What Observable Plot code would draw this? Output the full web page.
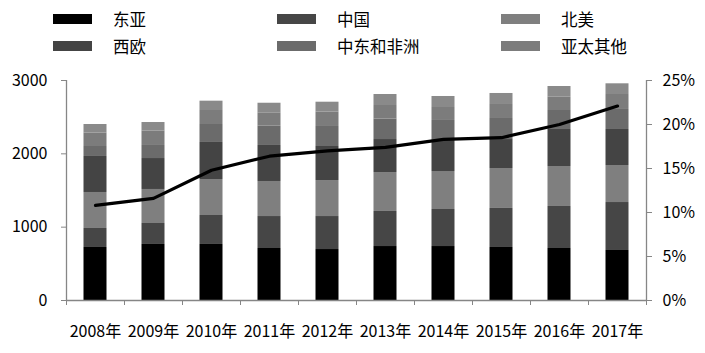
<!DOCTYPE html>
<html><head><meta charset="utf-8">
<script src="https://cdn.jsdelivr.net/npm/d3@7"></script>
<script src="https://cdn.jsdelivr.net/npm/@observablehq/plot@0.6"></script>
<style>
body{margin:0;background:#fff;}
#wrap{position:relative;width:705px;height:353px;overflow:hidden;font-family:"Noto Sans CJK SC","Noto Sans",sans-serif;}
#legend{position:absolute;left:0;top:0;width:705px;height:70px;}
.item{position:absolute;display:flex;align-items:center;font-size:16.5px;color:#000;height:20px;}
.sw{width:39px;height:10px;margin-right:21px;}
</style>
</head><body>
<div id="wrap"><div id="legend"></div></div>
<script>
const years = ["2008年","2009年","2010年","2011年","2012年","2013年","2014年","2015年","2016年","2017年"];
const eastAsia     = [723, 764, 764, 709, 695, 736, 736, 723, 709, 682];
const china        = [259, 286, 395, 436, 450, 478, 505, 532, 573, 654];
const northAmerica = [491, 464, 491, 478, 491, 531, 518, 545, 545, 505];
const westEurope   = [491, 422, 505, 491, 464, 450, 423, 395, 505, 491];
const meAfrica     = [136, 178, 245, 263, 273, 280, 273, 287, 259, 273];
const otherAPAC    = [182, 195, 191, 182, 195, 184, 177, 191, 181, 204];
const otherRest    = [118, 118, 127, 131, 136, 150, 150, 150, 146, 146];
const sharePct     = [10.8, 11.6, 14.8, 16.4, 17.0, 17.4, 18.3, 18.5, 20.0, 22.1];
const leftTicks = [0, 1000, 2000, 3000];
const rightTicks = [0, 5, 10, 15, 20, 25];

const series = [
  {name: "东亚", values: eastAsia, color: "#000000", legend: true},
  {name: "中国", values: china, color: "#464646", legend: true},
  {name: "北美", values: northAmerica, color: "#7f7f7f", legend: true},
  {name: "西欧", values: westEurope, color: "#444444", legend: true},
  {name: "中东和非洲", values: meAfrica, color: "#6b6b6b", legend: true},
  {name: "亚太其他", values: otherAPAC, color: "#7c7c7c", legend: true},
  {name: "其他", values: otherRest, color: "#8a8a8a", legend: false}
];
const pctScale = 3000 / 25;

const rows = [];
series.forEach(s => s.values.forEach((v, i) => rows.push({x1: i, x2: i + 1, value: v, series: s.name, color: s.color})));
const lineData = sharePct.map((v, i) => ({x: i + 0.5, y: v * pctScale}));

const axisColor = "#868686";
const chart = Plot.plot({
  width: 705, height: 353,
  marginLeft: 66, marginRight: 59, marginTop: 80, marginBottom: 53,
  style: {fontFamily: '"Noto Sans CJK SC","Noto Sans",sans-serif', fontSize: "16px", color: "#000", background: "#fff"},
  x: {domain: [0, years.length], axis: null},
  y: {domain: [0, 3000], axis: null},
  marks: [
    Plot.rectY(rows, Plot.stackY({x1: "x1", x2: "x2", y: "value", z: "series", fill: "color", insetLeft: 17.5, insetRight: 17.5})),
    Plot.ruleX([0], {stroke: axisColor, strokeWidth: 1.3}),
    Plot.ruleX([years.length], {stroke: axisColor, strokeWidth: 1.3}),
    Plot.ruleY([0], {stroke: axisColor, strokeWidth: 1.3}),
    Plot.axisY({ticks: leftTicks, tickSize: 5, tickPadding: 14, stroke: axisColor, tickFormat: d => String(d), fill: "#000"}),
    Plot.axisY({anchor: "right", ticks: rightTicks.map(t => t * pctScale), tickSize: 5, tickPadding: 11, stroke: axisColor, tickFormat: d => Math.round(d / pctScale) + "%", fill: "#000"}),
    Plot.axisX({ticks: d3.range(0, years.length + 1), tickSize: 5, stroke: axisColor, tickFormat: () => ""}),
    Plot.axisX({ticks: years.map((_, i) => i + 0.5), tickSize: 0, tickPadding: 25, tickFormat: d => years[Math.floor(d)], fill: "#000"}),
    Plot.line(lineData, {x: "x", y: "y", stroke: "#000", strokeWidth: 3.2, strokeLinejoin: "round"})
  ]
});
const wrap = document.getElementById("wrap");
wrap.insertBefore(chart, wrap.firstChild);

const legend = document.getElementById("legend");
series.filter(s => s.legend).forEach((s, k) => {
  const col = k % 3, row = Math.floor(k / 3);
  const el = document.createElement("div");
  el.className = "item";
  el.style.left = (53 + col * 224) + "px";
  el.style.top = (9 + row * 26.5) + "px";
  el.innerHTML = `<div class="sw" style="background:${s.color}"></div><span>${s.name}</span>`;
  legend.appendChild(el);
});
</script>
</body></html>
